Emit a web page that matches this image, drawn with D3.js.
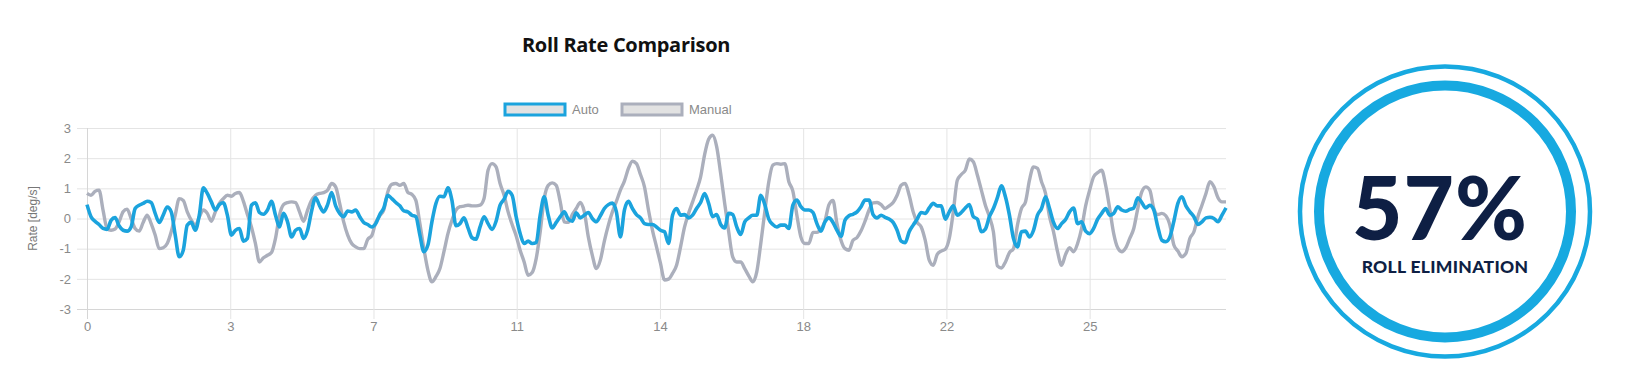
<!DOCTYPE html>
<html>
<head>
<meta charset="utf-8">
<script src="https://cdn.jsdelivr.net/npm/d3@7"></script>
<style>
  body { margin: 0; background: #fff; }
  svg { display: block; }
</style>
</head>
<body>
<div id="chart"></div>
<script>
// seconds between two samples
var sampleStep = 0.1;

// Auto (stabilised) roll rate, deg/s
var autoRate = [
  0.46, 0.06, -0.09, -0.2, -0.33, -0.36, -0.06, 0.03, -0.24, -0.39,
  -0.42, -0.28, 0.33, 0.44, 0.5, 0.57, 0.53, 0.17, -0.13, 0.11,
  0.38, 0.22, -0.55, -1.27, -1.05, -0.22, -0.13, -0.39, 0.11, 1.02,
  0.83, 0.55, 0.28, 0.46, 0.52, 0.11, -0.55, -0.39, -0.33, -0.75,
  -0.66, 0.44, 0.52, 0.2, 0.14, 0.28, 0.57, 0.11, -0.28, 0.17,
  -0.11, -0.61, -0.39, -0.33, -0.66, -0.39, 0.25, 0.69, 0.42, 0.22,
  0.46, 0.86, 0.42, 0.17, 0.06, 0.25, 0.22, 0.28, 0.06, -0.13,
  -0.2, -0.28, -0.17, 0.13, 0.35, 0.77, 0.66, 0.53, 0.42, 0.25,
  0.22, 0.11, 0.06, -0.55, -1.1, -0.88, -0.11, 0.5, 0.74, 0.72,
  1.02, 0.6, -0.24, -0.17, 0.02, -0.31, -0.64, -0.69, -0.28, 0.06,
  -0.17, -0.36, -0.09, 0.44, 0.64, 0.9, 0.77, 0.06, -0.5, -0.83,
  -0.75, -0.83, -0.8, 0.11, 0.72, 0.11, -0.31, -0.13, 0.06, 0.22,
  -0.02, -0.09, 0.19, 0.02, 0.11, 0.2, 0, -0.11, 0.09, 0.33,
  0.46, 0.51, 0.22, -0.61, 0.28, 0.57, 0.33, 0.13, 0.02, -0.17,
  -0.2, -0.2, -0.28, -0.39, -0.44, -0.83, 0.11, 0.33, 0.11, 0.13,
  0.02, 0.11, 0.33, 0.53, 0.83, 0.5, 0.06, 0.13, -0.2, -0.31,
  0.17, 0.13, -0.28, -0.53, -0.11, 0.02, 0.11, 0.11, 0.77, 0.46,
  -0.02, -0.2, -0.28, -0.22, -0.22, -0.33, 0.44, 0.61, 0.39, 0.28,
  0.28, 0.2, -0.17, -0.42, -0.11, 0.02, -0.13, -0.39, -0.59, -0.06,
  0.09, 0.14, 0.22, 0.39, 0.61, 0.61, 0.13, 0.02, 0.11, 0.04,
  -0.02, -0.13, -0.39, -0.75, -0.8, -0.44, -0.22, -0.02, 0.2, 0.17,
  0.35, 0.5, 0.42, 0.42, -0.02, 0.22, 0.42, 0.11, 0.2, 0.35,
  0.46, 0.06, -0.02, -0.44, -0.35, 0.06, 0.33, 0.69, 1.08, 0.72,
  0.11, -0.66, -0.94, -0.44, -0.42, -0.61, -0.39, 0.11, 0.33, 0.72,
  0.33, -0.13, -0.33, -0.17, -0.03, 0.22, 0.35, -0.17, -0.11, -0.42,
  -0.5, -0.33, -0.02, 0.17, 0.33, 0.11, 0.17, 0.39, 0.28, 0.24,
  0.3, 0.35, 0.69, 0.53, 0.35, 0.44, 0.28, -0.28, -0.72, -0.77,
  -0.61, -0.09, 0.5, 0.72, 0.42, 0.22, 0.06, -0.2, -0.11, 0.02,
  0.04, 0, -0.11, 0.11, 0.35
];

// Manual roll rate, deg/s
var manualRate = [
  0.83, 0.77, 0.9, 0.94, 0.28, -0.33, -0.39, -0.35, -0.11, 0.22,
  0.31, 0, -0.33, -0.42, -0.13, 0.11, -0.17, -0.55, -1.0, -0.97,
  -0.83, -0.44, 0.11, 0.66, 0.6, 0.22, -0.05, -0.22, 0.05, 0.28,
  0.17, -0.09, 0.22, 0.5, 0.66, 0.77, 0.74, 0.83, 0.86, 0.57,
  0.13, -0.28, -0.83, -1.44, -1.3, -1.22, -1.13, -0.66, 0.11, 0.46,
  0.53, 0.55, 0.53, 0.22, -0.09, 0.28, 0.6, 0.77, 0.83, 0.86,
  0.94, 1.16, 1.05, 0.5, -0.11, -0.55, -0.83, -0.94, -1.0, -1.0,
  -0.69, -0.57, -0.13, 0.09, 0.28, 0.88, 1.13, 1.16, 1.1, 1.16,
  0.86, 0.8, 0.6, -0.17, -1.0, -1.71, -2.1, -1.93, -1.66, -1.1,
  -0.5, -0.06, 0.28, 0.39, 0.41, 0.44, 0.42, 0.42, 0.44, 0.66,
  1.6, 1.82, 1.71, 1.16, 0.77, 0.22, -0.2, -0.57, -1.05, -1.44,
  -1.88, -1.79, -1.33, -0.44, 0.66, 1.1, 1.18, 1.1, 0.55, -0.11,
  -0.13, 0.13, 0.33, 0.53, 0.22, -0.61, -1.22, -1.66, -1.38, -0.75,
  -0.22, 0.22, 0.57, 0.94, 1.24, 1.66, 1.9, 1.82, 1.46, 1.05,
  0.28, -0.39, -0.94, -1.49, -2.04, -2.01, -1.82, -1.55, -0.94, -0.28,
  0.17, 0.55, 0.94, 1.38, 2.12, 2.63, 2.76, 2.38, 1.49, 0.5,
  -0.44, -1.27, -1.44, -1.44, -1.66, -1.9, -2.1, -1.77, -0.83, 0.22,
  1.22, 1.77, 1.82, 1.8, 1.82, 1.22, 0.91, 0.11, -0.61, -0.83,
  -0.83, -0.46, -0.46, -0.35, -0.09, 0.46, 0.6, -0.17, -0.72, -1.0,
  -1.05, -0.72, -0.63, -0.41, -0.09, 0.28, 0.52, 0.53, 0.46, 0.33,
  0.42, 0.53, 0.77, 1.1, 1.16, 0.77, 0.22, -0.13, -0.28, -0.72,
  -1.38, -1.55, -1.19, -1.08, -1.02, -0.66, 0.22, 1.27, 1.46, 1.6,
  1.97, 1.88, 1.44, 0.94, 0.44, 0.06, -0.44, -1.57, -1.64, -1.44,
  -1.13, -1.0, -0.22, 0.33, 0.55, 1.27, 1.71, 1.66, 1.22, 0.83,
  0.06, -0.44, -1.1, -1.55, -1.19, -0.97, -1.1, -0.83, -0.33, 0.42,
  0.94, 1.38, 1.52, 1.6, 1.1, 0.33, -0.5, -0.97, -1.1, -0.97,
  -0.66, -0.33, 0.33, 0.88, 1.05, 0.94, 0.33, 0.13, 0.17, 0.09,
  -0.22, -0.88, -1.08, -1.27, -1.16, -0.66, -0.44, 0.06, 0.44, 0.83,
  1.22, 1.05, 0.69, 0.55, 0.55
];

// axis labels as printed (evenly spaced, every 25/7 s)
var xTickLabels = ["0", "3", "7", "11", "14", "18", "22", "25"];
var yTicks = [-3, -2, -1, 0, 1, 2, 3];

var seriesNames = ["Auto", "Manual"];
var badgeValue = "57%";
var badgeText = "ROLL ELIMINATION";

var svgWidth = 1629;
var svgHeight = 365;
var margin = { top: 128, right: 403, bottom: 56, left: 87 };
var width = svgWidth - margin.left - margin.right;
var height = svgHeight - margin.top - margin.bottom;

var blue = "#1ba3dd";
var grey = "#abafbc";
var navy = "#0e1f44";

var svg = d3.select("#chart").append("svg")
  .attr("width", svgWidth).attr("height", svgHeight);

// title
svg.append("text")
  .attr("x", 626).attr("y", 52)
  .attr("text-anchor", "middle")
  .style("font-family", "'Open Sans', sans-serif")
  .style("font-weight", 700)
  .style("font-size", "20px")
  .style("letter-spacing", "-0.3px")
  .style("fill", "#111")
  .text("Roll Rate Comparison");

var chartGroup = svg.append("g")
  .attr("transform", `translate(${margin.left}, ${margin.top})`);

var tMax = (manualRate.length - 1) * sampleStep;
var xScale = d3.scaleLinear().domain([0, tMax]).range([0, width]);
var yScale = d3.scaleLinear().domain([-3, 3]).range([height, 0]);

var xTickVals = xTickLabels.map((d, i) => i * 25 / 7);

// y grid + labels
var leftAxis = d3.axisLeft(yScale)
  .tickValues(yTicks)
  .tickFormat(d => String(d))
  .tickSize(-(width + 10))
  .tickPadding(6);
var yAxis = chartGroup.append("g")
  .attr("transform", "translate(-10,0)")
  .call(leftAxis);

// x grid + labels
var bottomAxis = d3.axisBottom(xScale)
  .tickValues(xTickVals)
  .tickFormat((d, i) => xTickLabels[i])
  .tickSize(-(height + 10))
  .tickPadding(3);
var xAxis = chartGroup.append("g")
  .attr("transform", `translate(0, ${height + 10})`)
  .call(bottomAxis);

[xAxis, yAxis].forEach(function(g) {
  g.select(".domain").remove();
  g.selectAll(".tick line").attr("stroke", "#e4e4e4").attr("stroke-width", 1);
  g.selectAll(".tick text")
    .style("font-family", "'Liberation Sans', Arial, sans-serif")
    .style("font-size", "13px")
    .attr("fill", "#8a8a8a");
});
// the border lines a bit darker
yAxis.selectAll(".tick line").filter(d => d === -3).attr("stroke", "#d6d6d6");
xAxis.selectAll(".tick line").filter(d => d === 0).attr("stroke", "#d6d6d6");

chartGroup.append("text")
  .attr("transform", "rotate(-90)")
  .attr("x", -height / 2).attr("y", -50)
  .attr("text-anchor", "middle")
  .style("font-family", "'Liberation Sans', Arial, sans-serif")
  .style("font-size", "12px")
  .attr("fill", "#777")
  .text("Rate [deg/s]");

// lines, manual underneath
var line = d3.line()
  .x((d, i) => xScale(i * sampleStep))
  .y(d => yScale(d))
  .curve(d3.curveMonotoneX);

chartGroup.append("path")
  .datum(manualRate)
  .attr("fill", "none")
  .attr("stroke", grey)
  .attr("stroke-width", 3.4)
  .attr("stroke-linejoin", "round")
  .attr("d", line);

chartGroup.append("path")
  .datum(autoRate)
  .attr("fill", "none")
  .attr("stroke", blue)
  .attr("stroke-width", 3.6)
  .attr("stroke-linejoin", "round")
  .attr("d", line);

// legend
var legendItems = [
  { name: seriesNames[0], x: 505, color: blue },
  { name: seriesNames[1], x: 622, color: grey }
];
var legend = svg.append("g").selectAll("g").data(legendItems).enter().append("g")
  .attr("transform", d => `translate(${d.x}, 104)`);
legend.append("rect")
  .attr("width", 60).attr("height", 11)
  .attr("fill", "#e2e2e2")
  .attr("stroke", d => d.color)
  .attr("stroke-width", 3);
legend.append("text")
  .attr("x", 67).attr("y", 10)
  .style("font-family", "'Liberation Sans', Arial, sans-serif")
  .style("font-size", "13px")
  .attr("fill", "#8a8a8a")
  .text(d => d.name);

// badge
var badge = svg.append("g").attr("transform", "translate(1445, 211.5)");
badge.append("circle").attr("r", 145).attr("fill", "none")
  .attr("stroke", "#17a9e0").attr("stroke-width", 4.5);
badge.append("circle").attr("r", 126).attr("fill", "none")
  .attr("stroke", "#17a9e0").attr("stroke-width", 10);
badge.append("text")
  .attr("x", -5).attr("y", 28.5)
  .attr("text-anchor", "middle")
  .style("font-family", "Lato, sans-serif")
  .style("font-weight", 900)
  .style("font-size", "87px")
  .style("letter-spacing", "1px")
  .attr("fill", navy)
  .text(badgeValue);
badge.append("text")
  .attr("x", 0).attr("y", 61.5)
  .attr("text-anchor", "middle")
  .style("font-family", "Lato, sans-serif")
  .style("font-weight", 900)
  .style("font-size", "17.5px")
  .style("letter-spacing", "0.3px")
  .attr("fill", navy)
  .text(badgeText);
</script>
</body>
</html>
